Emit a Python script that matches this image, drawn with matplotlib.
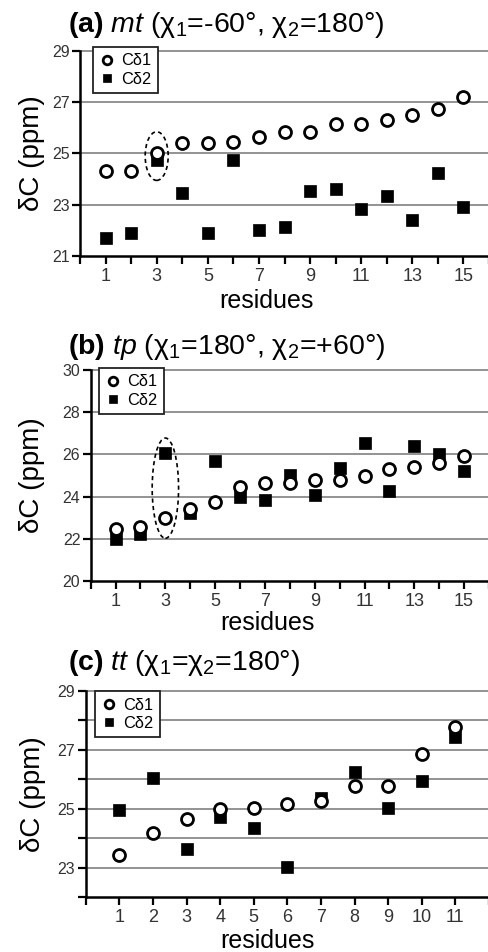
import numpy as np
import matplotlib
matplotlib.use("Agg")
from matplotlib import pyplot as plt
from matplotlib.patches import Ellipse

plt.rcParams['font.family'] = ['Liberation Sans', 'DejaVu Sans']
plt.rcParams['mathtext.fontset'] = 'custom'
plt.rcParams['mathtext.rm'] = 'Liberation Sans'
plt.rcParams['mathtext.it'] = 'Liberation Sans:italic'
plt.rcParams['mathtext.bf'] = 'Liberation Sans:bold'

# Data: 13C chemical shifts of the two delta carbons per residue
res_a = np.arange(1, 16)
cd1_a = [24.3, 24.3, 25.0, 25.4, 25.4, 25.45, 25.65, 25.85, 25.85, 26.15, 26.15, 26.3, 26.5, 26.75, 27.2]
cd2_a = [21.7, 21.9, 24.75, 23.45, 21.9, 24.75, 22.0, 22.15, 23.55, 23.6, 22.85, 23.35, 22.4, 24.25, 22.9]

res_b = np.arange(1, 16)
cd1_b = [22.48, 22.57, 22.97, 23.43, 23.74, 24.47, 24.64, 24.63, 24.79, 24.79, 24.98, 25.29, 25.39, 25.58, 25.91]
cd2_b = [22.0, 22.23, 26.05, 23.2, 25.7, 23.98, 23.82, 25.02, 24.08, 25.34, 26.56, 24.28, 26.4, 26.03, 25.21]

res_c = np.arange(1, 12)
cd1_c = [23.44, 24.18, 24.66, 24.99, 25.01, 25.15, 25.26, 25.76, 25.76, 26.85, 27.77]
cd2_c = [24.95, 26.03, 23.63, 24.71, 24.36, 23.01, 25.35, 26.24, 25.02, 25.94, 27.45]

titles = [r"$\mathbf{(a)}$ $\mathit{mt}$ (χ$_1$=-60°, χ$_2$=180°)",
          r"$\mathbf{(b)}$ $\mathit{tp}$ (χ$_1$=180°, χ$_2$=+60°)",
          r"$\mathbf{(c)}$ $\mathit{tt}$ (χ$_1$=χ$_2$=180°)"]

W, H = 489, 952
fig = plt.figure(figsize=(W / 100, H / 100), dpi=100)


def px_axes(left, top, right, bottom):
    return fig.add_axes([left / W, 1 - bottom / H, (right - left) / W, (bottom - top) / H])


def draw_panel(ax, res, cd1, cd2, xmax, ylim, yticks, ylabels, grid_y, xlabels_every):
    ax.set_xlim(0, xmax)
    ax.set_ylim(*ylim)
    for y in grid_y:
        ax.axhline(y, color="#8a8a8a", lw=1.3, zorder=0, clip_on=False)
    ax.plot(res, cd2, ls="none", marker="s", ms=8.7, mfc="black", mec="black", mew=0.5,
            label="Cδ2", zorder=3)
    ax.plot(res, cd1, ls="none", marker="o", ms=8.6, mfc="white", mec="black", mew=2.0,
            label="Cδ1", zorder=4)

    xt = np.arange(0, xmax + 1)
    ax.set_xticks(xt)
    ax.set_xticklabels([str(int(t)) if (1 <= t <= res[-1] and (t - 1) % xlabels_every == 0) else ""
                        for t in xt])
    ax.set_yticks(yticks)
    ax.set_yticklabels(ylabels)

    for s in ("top", "right"):
        ax.spines[s].set_visible(False)
    for s in ("left", "bottom"):
        ax.spines[s].set_linewidth(1.8)
    ax.tick_params(axis="both", direction="out", length=5.5, width=1.6, color="black")
    ax.tick_params(axis="x", labelsize=13, labelcolor="#333333", pad=3)
    ax.tick_params(axis="y", labelsize=11.5, labelcolor="#333333", pad=2)

    handles, labels = ax.get_legend_handles_labels()
    return handles[::-1], labels[::-1]


def add_legend(ax, handles, labels, anchor):
    leg = ax.legend(handles, labels, loc="upper left", bbox_to_anchor=anchor, borderaxespad=0,
                    fontsize=11.8, fancybox=False, framealpha=1, edgecolor="#222222",
                    handlelength=0.9, handletextpad=0.4, labelspacing=0.2, borderpad=0.4,
                    markerscale=0.72)
    leg.get_frame().set_linewidth(1.3)
    leg.set_zorder(5)


# (a)
ax_a = px_axes(80, 51, 489, 256)
h, l = draw_panel(ax_a, res_a, cd1_a, cd2_a, 16, (21, 29), [21, 23, 25, 27, 29],
                  ["21", "23", "25", "27", "29"], [23, 25, 27, 29], 2)
add_legend(ax_a, h, l, (0.032, 1.02))
ax_a.add_patch(Ellipse((3, 24.9), 0.9, 1.9, fill=False, ls=(0, (2.5, 2)), lw=1.2, color="black", zorder=5))
ax_a.set_ylabel("δC (ppm)", fontsize=20, va="center")
ax_a.yaxis.set_label_coords(-0.117, 0.5)
ax_a.set_xlabel("residues", fontsize=18, va="center")
ax_a.xaxis.set_label_coords(0.457, -0.22)

# (b)
ax_b = px_axes(90.7, 370, 489, 581)
h, l = draw_panel(ax_b, res_b, cd1_b, cd2_b, 16, (20, 30), [20, 22, 24, 26, 28, 30],
                  ["20", "22", "24", "26", "28", "30"], [22, 24, 26, 28, 30], 2)
add_legend(ax_b, h, l, (0.021, 1.01))
ax_b.add_patch(Ellipse((3, 24.4), 1.06, 4.75, fill=False, ls=(0, (2.5, 2)), lw=1.2, color="black", zorder=5))
ax_b.set_ylabel("δC (ppm)", fontsize=20, va="center")
ax_b.yaxis.set_label_coords(-0.147, 0.5)
ax_b.set_xlabel("residues", fontsize=18, va="center")
ax_b.xaxis.set_label_coords(0.443, -0.2)

# (c)
ax_c = px_axes(85.7, 691, 489, 897)
h, l = draw_panel(ax_c, res_c, cd1_c, cd2_c, 12, (22, 29), np.arange(22, 30),
                  ["", "23", "", "25", "", "27", "", "29"], np.arange(23, 30), 1)
add_legend(ax_c, h, l, (0.023, 1.0))
ax_c.set_ylabel("δC (ppm)", fontsize=20, va="center")
ax_c.yaxis.set_label_coords(-0.131, 0.5)
ax_c.set_xlabel("residues", fontsize=18, va="center")
ax_c.xaxis.set_label_coords(0.45, -0.215)

# Panel titles
for t, y in zip(titles, [25, 347, 663]):
    fig.text(68 / W, 1 - y / H, t, fontsize=20.5, ha="left", va="center")

fig.savefig("out.png", dpi=100)
